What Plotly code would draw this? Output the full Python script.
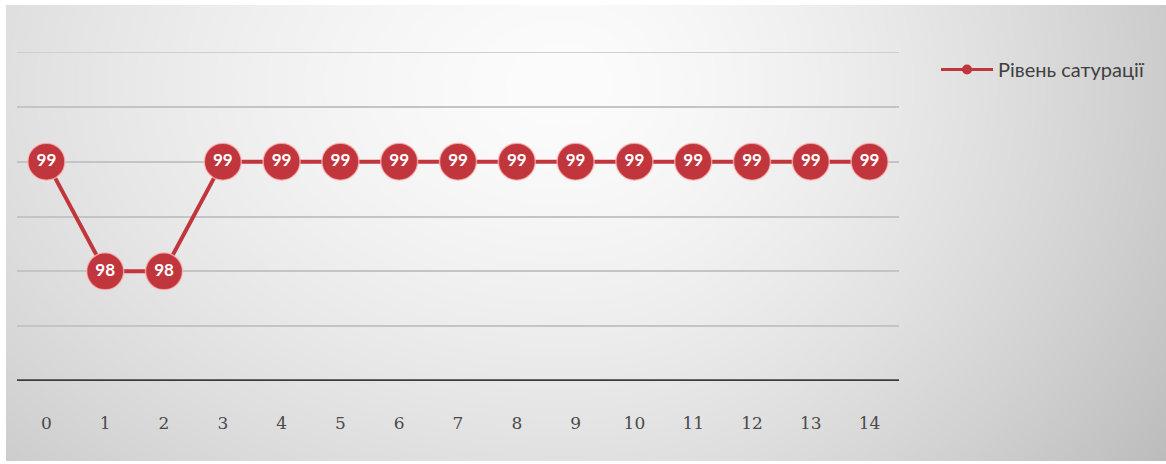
import base64
import struct
import zlib

import numpy as np
import plotly.graph_objects as go

# Saturation readings by measurement index
measurement = list(range(15))
saturation = [99, 98, 98, 99, 99, 99, 99, 99, 99, 99, 99, 99, 99, 99, 99]
series_name = "Рівень сатурації"
y_ticks = [97, 97.5, 98, 98.5, 99, 99.5, 100]

W, H = 1166, 464
L, R, T, B = 17, 267, 52, 83
PW, PH = W - L - R, H - T - B

RED = "#C1353C"


def gradient_png(w, h):
    """Soft grey radial background, brightest near the upper middle."""
    yy, xx = np.mgrid[0:h, 0:w].astype(float)
    cx, cy = 560.0, 80.0
    ax = np.where(xx < cx, 820.0, 620.0)
    ay = 560.0
    d = np.sqrt(((xx - cx) / ax) ** 2 + ((yy - cy) / ay) ** 2)
    val = 252 - 50 * np.clip(d, 0, 1.3) ** 1.5
    img = np.clip(val, 0, 255).astype(np.uint8)
    raw = b"".join(b"\x00" + img[r].tobytes() for r in range(h))

    def chunk(tag, data):
        c = struct.pack(">I", len(data)) + tag + data
        return c + struct.pack(">I", zlib.crc32(tag + data) & 0xFFFFFFFF)

    png = b"\x89PNG\r\n\x1a\n"
    png += chunk(b"IHDR", struct.pack(">IIBBBBB", w, h, 8, 0, 0, 0, 0))
    png += chunk(b"IDAT", zlib.compress(raw, 9))
    png += chunk(b"IEND", b"")
    return "data:image/png;base64," + base64.b64encode(png).decode()


bg_x0, bg_y0, bg_w, bg_h = 6, 5, 1160, 456

fig = go.Figure()

fig.add_trace(go.Scatter(
    x=measurement,
    y=saturation,
    mode="lines+markers+text",
    text=[str(v) for v in saturation],
    textposition="middle center",
    textfont=dict(family="Lato, Open Sans, sans-serif", size=17, color="white", weight="bold"),
    line=dict(color=RED, width=4),
    marker=dict(size=37, color=RED, line=dict(color="rgba(255,190,190,0.7)", width=1.5)),
    showlegend=False,
    cliponaxis=False,
))

# legend entry with a compact marker
fig.add_trace(go.Scatter(
    x=[None], y=[None],
    mode="lines+markers",
    name=series_name,
    line=dict(color=RED, width=3),
    marker=dict(size=10, color=RED),
    showlegend=True,
))

fig.update_layout(
    width=W,
    height=H,
    margin=dict(l=L, r=R, t=T, b=B),
    paper_bgcolor="white",
    plot_bgcolor="rgba(0,0,0,0)",
    images=[dict(
        source=gradient_png(bg_w, bg_h),
        xref="paper", yref="paper",
        x=(bg_x0 - L) / PW,
        y=(H - B - bg_y0) / PH,
        sizex=bg_w / PW,
        sizey=bg_h / PH,
        sizing="stretch",
        xanchor="left", yanchor="top",
        layer="below",
    )],
    xaxis=dict(
        range=[-0.5, 14.5],
        tickmode="array",
        tickvals=measurement,
        ticktext=[str(v) for v in measurement],
        showgrid=False,
        zeroline=False,
        showline=False,
        ticks="",
        ticklabelstandoff=30,
        tickfont=dict(family="DejaVu Serif, Liberation Serif, serif", size=17, color="#4a4a4a"),
    ),
    yaxis=dict(
        range=[97, 100],
        tickvals=y_ticks,
        showticklabels=False,
        showgrid=True,
        gridcolor="#c4c4c4",
        gridwidth=2,
        zeroline=False,
        showline=False,
        ticks="",
    ),
    shapes=[
        dict(type="line", xref="paper", yref="y", x0=0, x1=1, y0=100, y1=100,
             line=dict(color="#cfcfcf", width=2), layer="below"),
        dict(type="line", xref="paper", yref="y", x0=0, x1=1, y0=97, y1=97,
             line=dict(color="#3c3c3c", width=3.5)),
    ],
    legend=dict(
        xref="container", yref="container",
        x=936 / W, y=1 - 50 / H,
        xanchor="left", yanchor="top",
        bgcolor="rgba(0,0,0,0)",
        itemwidth=52,
        font=dict(family="Lato, Open Sans, sans-serif", size=20, color="#404040"),
    ),
)

fig.write_html("out.html")
